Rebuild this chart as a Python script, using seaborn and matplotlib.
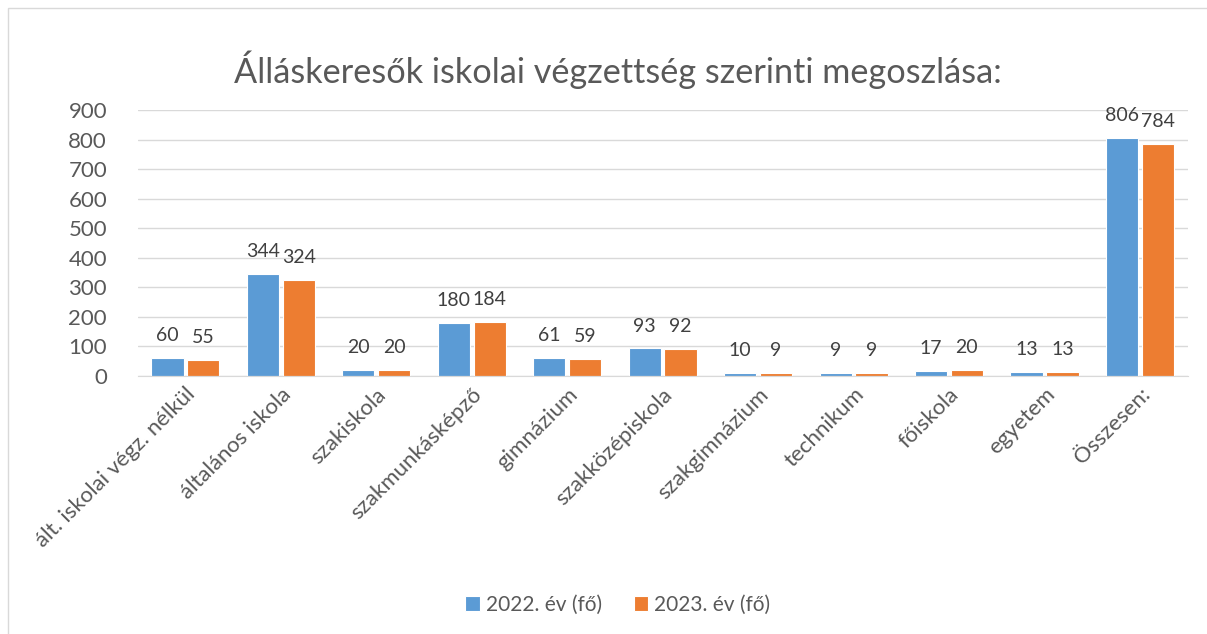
import pandas as pd
import matplotlib.pyplot as plt
import seaborn as sns
from matplotlib.patches import Rectangle

# Data
categories = ["ált. iskolai végz. nélkül", "általános iskola", "szakiskola",
              "szakmunkásképző", "gimnázium", "szakközépiskola", "szakgimnázium",
              "technikum", "főiskola", "egyetem", "Összesen:"]
values_2022 = [60, 344, 20, 180, 61, 93, 10, 9, 17, 13, 806]
values_2023 = [55, 324, 20, 184, 59, 92, 9, 9, 20, 13, 784]
series = ["2022. év (fő)", "2023. év (fő)"]

df = pd.DataFrame({
    "kat": categories * 2,
    "ertek": values_2022 + values_2023,
    "ev": [series[0]] * len(categories) + [series[1]] * len(categories),
})

sns.set_style("white")
plt.rcParams['font.family'] = ['Lato', 'DejaVu Sans']
txt = "#595959"

fig = plt.figure(figsize=(12.07, 6.34), dpi=100)
ax = fig.add_axes([0.114, 0.407, 0.870, 0.4195])

sns.barplot(data=df, x="kat", y="ertek", hue="ev", saturation=1,
            palette=["#5B9BD5", "#ED7D31"], width=0.75, gap=0.1,
            edgecolor="white", linewidth=0.8, ax=ax)

for c in ax.containers:
    ax.bar_label(c, padding=10, fontsize=14, color="#404040")

ax.set_ylim(0, 900)
ax.set_xlim(-0.5, len(categories) - 0.5)
ax.set_yticks(range(0, 901, 100))
ax.yaxis.grid(True, color="#d9d9d9", linewidth=1)
ax.set_axisbelow(True)
for s in ["top", "right", "left"]:
    ax.spines[s].set_visible(False)
ax.spines["bottom"].set_color("#d9d9d9")
ax.set_xlabel("")
ax.set_ylabel("")
ax.tick_params(axis="y", labelsize=16, labelcolor=txt, length=0, pad=22)
ax.tick_params(axis="x", labelsize=16, labelcolor=txt, length=0, pad=6)
plt.setp(ax.get_xticklabels(), rotation=45, ha="right", rotation_mode="anchor")

ax.get_legend().remove()
h, l = ax.get_legend_handles_labels()
fig.legend(h, l, loc="center", bbox_to_anchor=(0.512, 0.046), ncol=2,
           frameon=False, fontsize=15, labelcolor=txt,
           handlelength=0.7, handleheight=0.7, handletextpad=0.3, columnspacing=1.5)

fig.suptitle("Álláskeresők iskolai végzettség szerinti megoszlása:",
             x=0.512, y=0.92, fontsize=24.7, color=txt)

fig.patches.append(Rectangle((0.007, -0.01), 1.0, 0.997, transform=fig.transFigure,
                             fill=False, edgecolor="#d9d9d9", linewidth=1))

plt.savefig("out.png", dpi=100)
